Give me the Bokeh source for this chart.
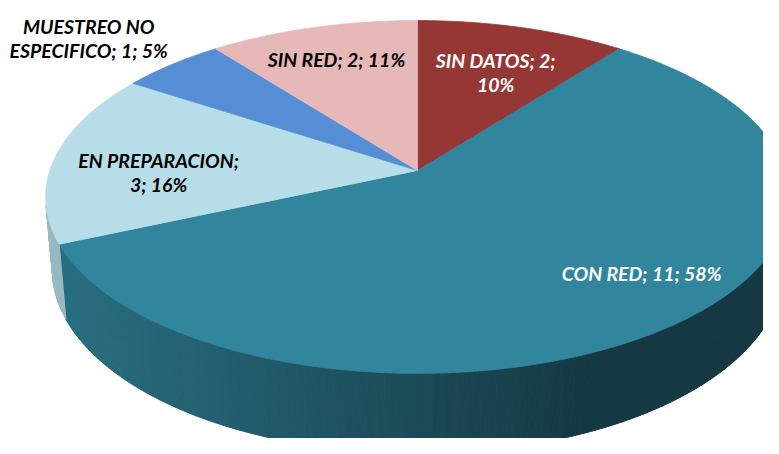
import math
import textwrap
from bokeh.plotting import figure
from bokeh.models import Range1d
from bokeh.embed import file_html
from bokeh.resources import INLINE
from bokeh.core.properties import value

# ---- data (clockwise from 12 o'clock) ----
categories = ["SIN DATOS", "CON RED", "EN PREPARACION", "MUESTREO NO ESPECIFICO", "SIN RED"]
counts = [2, 11, 3, 1, 2]
percents = [10, 58, 16, 5, 11]
colors = ["#953735", "#31859C", "#B7DEE8", "#558ED5", "#E6B9B8"]
label_colors = ["white", "white", "black", "black", "black"]

# ---- styling / geometry (not data) ----
wrap_widths = [13, 40, 15, 17, 40]
# label anchor in disk polar coords: (angle deg clockwise from top, radius fraction)
label_polar = [(20.5, 0.6635), (134.4, 0.783), (269.05, 0.703), (310.6, 1.331), (341.1, 0.7534)]
LINE_GAP = 24.5

OX, OY = 417.0, 170.0
F = 2164.0
D = 5.886
SPHI, CPHI = 0.469, 0.883
H = 0.2255


def proj(X, Y, Z=0.0):
    depth = D + Y * CPHI - Z * SPHI
    return OX + F * X / depth, OY - F * (Y * SPHI + Z * CPHI) / depth


def hex_rgb(h):
    h = h.lstrip("#")
    return tuple(int(h[i:i + 2], 16) for i in (0, 2, 4))


def shade(h, f):
    r, g, b = hex_rgb(h)
    return "#%02x%02x%02x" % tuple(max(0, min(255, int(round(c * f)))) for c in (r, g, b))


def side_factor(sx):
    return max(0.42, min(0.85, 0.83 - 0.00076 * (sx - 60)))


total = sum(counts)
starts, ends = [], []
acc = 0
for c in counts:
    starts.append(360.0 * acc / total)
    acc += c
    ends.append(360.0 * acc / total)

W, Hh = 763, 438
p = figure(width=W, height=Hh, output_backend="svg", toolbar_location=None,
           x_range=Range1d(0, W), y_range=Range1d(Hh, 0),
           x_axis_location=None, y_axis_location=None, min_border=0)
p.grid.visible = False
p.outline_line_color = None
p.background_fill_color = "white"
p.border_fill_color = "white"

# ---- sides ----
sxs, sys, scol = [], [], []
step = 0.5
for s, e, col in zip(starts, ends, colors):
    n = max(1, int(math.ceil((e - s) / step)))
    for i in range(n):
        t0 = math.radians(s + (e - s) * i / n)
        t1 = math.radians(s + (e - s) * (i + 1) / n)
        tm = 0.5 * (t0 + t1)
        if -1 - D * CPHI * math.cos(tm) <= 0:
            continue
        a = proj(math.sin(t0), math.cos(t0), 0)
        b = proj(math.sin(t1), math.cos(t1), 0)
        c2 = proj(math.sin(t1), math.cos(t1), -H)
        d2 = proj(math.sin(t0), math.cos(t0), -H)
        sxs.append([a[0], b[0], c2[0], d2[0]])
        sys.append([a[1], b[1], c2[1], d2[1]])
        mx = 0.25 * (a[0] + b[0] + c2[0] + d2[0])
        scol.append(shade(col, side_factor(mx)))
p.patches(sxs, sys, fill_color=scol, line_color=scol, line_width=1)

# ---- top faces ----
txs, tys = [], []
for s, e in zip(starts, ends):
    xs, ys = [OX], [OY]
    n = max(2, int(math.ceil((e - s) / 0.5)))
    for i in range(n + 1):
        t = math.radians(s + (e - s) * i / n)
        x, y = proj(math.sin(t), math.cos(t), 0)
        xs.append(x)
        ys.append(y)
    txs.append(xs)
    tys.append(ys)
p.patches(txs, tys, fill_color=colors, line_color=colors, line_width=0.8)

# ---- labels ----
lx, ly, lt, lc = [], [], [], []
for cat, cnt, pct, ww, (ang, r), tc in zip(categories, counts, percents, wrap_widths, label_polar, label_colors):
    full = f"{cat}; {cnt}; {pct}%"
    lines = textwrap.wrap(full, ww)
    a = math.radians(ang)
    cx, cy = proj(r * math.sin(a), r * math.cos(a), 0)
    k = len(lines)
    for j, ln in enumerate(lines):
        lx.append(cx)
        ly.append(cy + (j - (k - 1) / 2) * LINE_GAP)
        lt.append(ln)
        lc.append(tc)
p.text(x=lx, y=ly, text=lt, text_color=lc, text_font=value("Lato"),
       text_font_style="bold italic", text_font_size="19.5px",
       text_align="center", text_baseline="middle")

open("out.html", "w").write(file_html(p, INLINE))
